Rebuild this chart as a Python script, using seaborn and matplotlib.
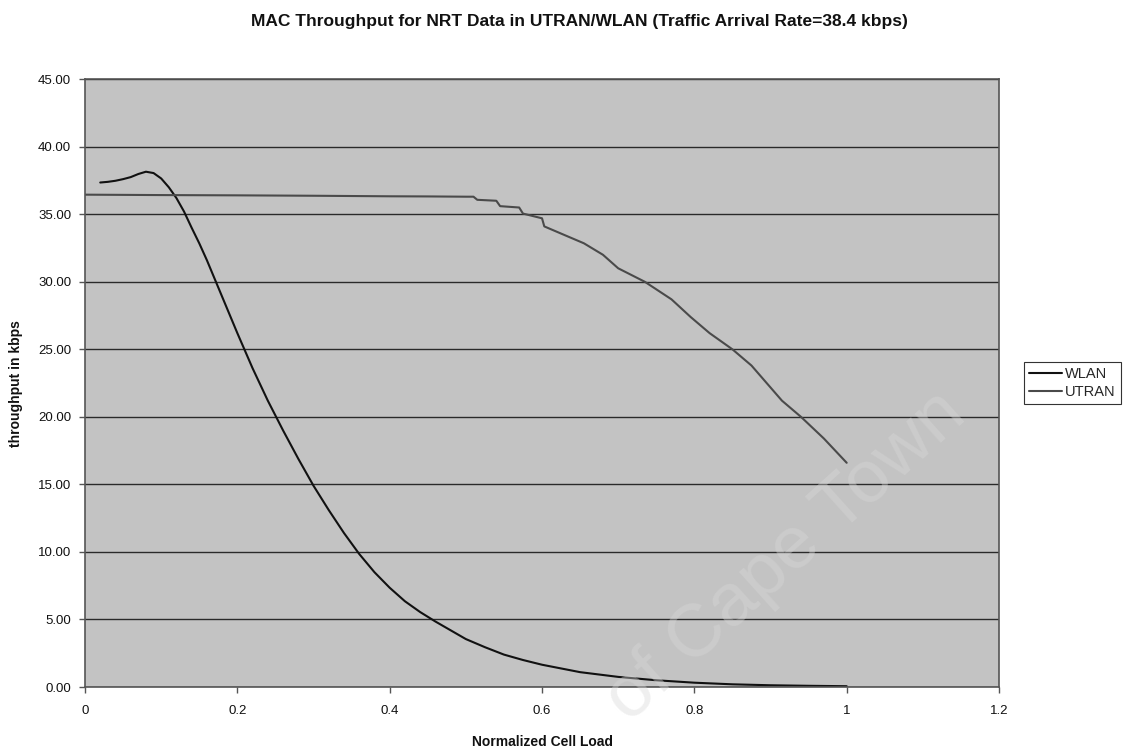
import numpy as np
import pandas as pd
import matplotlib
matplotlib.use("Agg")
import matplotlib.pyplot as plt
import seaborn as sns

# ---- data ----
wlan_x = [0.02, 0.03, 0.04, 0.05, 0.06, 0.07, 0.08, 0.09, 0.10, 0.11, 0.12, 0.13,
          0.14, 0.15, 0.16, 0.17, 0.18, 0.20, 0.22, 0.24,
          0.26, 0.28, 0.30, 0.32, 0.34, 0.36, 0.38, 0.40, 0.42, 0.44, 0.46, 0.48,
          0.50, 0.525, 0.55, 0.575, 0.60, 0.65, 0.70, 0.75, 0.80, 0.85, 0.90, 0.95, 1.00]
wlan_y = [37.35, 37.40, 37.48, 37.60, 37.75, 37.98, 38.15, 38.05, 37.65, 37.0, 36.2, 35.2,
          34.0, 32.85, 31.6, 30.25, 28.9, 26.2, 23.6, 21.2,
          19.0, 16.9, 14.9, 13.1, 11.4, 9.85, 8.5, 7.35, 6.35, 5.55, 4.85, 4.2,
          3.55, 2.95, 2.4, 2.0, 1.65, 1.1, 0.75, 0.5, 0.32, 0.2, 0.13, 0.09, 0.06]

utran_x = [0.00, 0.10, 0.20, 0.30, 0.40, 0.45, 0.50, 0.51, 0.515, 0.54, 0.545, 0.57,
           0.575, 0.60, 0.603, 0.63, 0.655, 0.68, 0.70, 0.735, 0.77, 0.795, 0.82,
           0.85, 0.875, 0.895, 0.915, 0.94, 0.97, 1.00]
utran_y = [36.45, 36.42, 36.40, 36.37, 36.33, 36.32, 36.30, 36.30, 36.07, 36.0, 35.6, 35.5,
           35.05, 34.7, 34.1, 33.45, 32.85, 32.0, 31.0, 30.0, 28.7, 27.4, 26.2,
           25.0, 23.8, 22.5, 21.2, 20.0, 18.4, 16.6]

series_names = ["WLAN", "UTRAN"]
x_ticks = [0, 0.2, 0.4, 0.6, 0.8, 1, 1.2]
x_tick_labels = ["0", "0.2", "0.4", "0.6", "0.8", "1", "1.2"]
y_ticks = [0, 5, 10, 15, 20, 25, 30, 35, 40, 45]

title = "MAC Throughput for NRT Data in UTRAN/WLAN (Traffic Arrival Rate=38.4 kbps)"
x_label = "Normalized Cell Load"
y_label = "throughput in kbps"

df = pd.concat([
    pd.DataFrame({"load": wlan_x, "tp": wlan_y, "series": series_names[0]}),
    pd.DataFrame({"load": utran_x, "tp": utran_y, "series": series_names[1]}),
], ignore_index=True)

sns.set_theme(style="white")
plt.rcParams["font.family"] = ["Liberation Sans", "DejaVu Sans"]

fig = plt.figure(figsize=(11.23, 7.47), dpi=100)
ax = fig.add_axes([0.0757, 0.0803, 0.8139, 0.8137])
ax.set_facecolor("#c3c3c3")

sns.lineplot(data=df, x="load", y="tp", hue="series",
             palette={"WLAN": "#111111", "UTRAN": "#4a4a4a"},
             estimator=None, sort=False, linewidth=1.5, ax=ax)
for ln in ax.get_lines():
    ln.set_solid_joinstyle("round")

ax.set_xlim(0, 1.2)
ax.set_ylim(0, 45)
ax.set_xticks(x_ticks)
ax.set_xticklabels(x_tick_labels)
ax.set_yticks(y_ticks)
ax.set_yticklabels([f"{v:.2f}" for v in y_ticks])
ax.yaxis.grid(True, color="#2a2a2a", linewidth=1.0)
ax.xaxis.grid(False)
ax.set_axisbelow(True)
for s in ax.spines.values():
    s.set_color("#555555")
    s.set_linewidth(1.2)
ax.tick_params(axis="both", which="major", direction="out", length=4, width=1,
               color="#555555", labelsize=9.5, pad=6, labelcolor="#111111",
               left=True, bottom=True)
ax.tick_params(axis="x", pad=9)

ax.set_xlabel(x_label, fontsize=10, fontweight="bold", color="#111111", labelpad=13)
ax.set_ylabel(y_label, fontsize=10, fontweight="bold", color="#111111", labelpad=11)

fig.text(0.516, 0.971, title, ha="center", va="center", fontsize=12.5,
         fontweight="bold", color="#111111")

handles, labels = ax.get_legend_handles_labels()
ax.legend(handles, labels, loc="center left", bbox_to_anchor=(1.027, 0.5),
          frameon=True, fancybox=False, edgecolor="#333333", framealpha=1,
          fontsize=10.5, handlelength=2.3, handletextpad=0.2, borderpad=0.35,
          labelspacing=0.3, borderaxespad=0)
ax.get_legend().get_frame().set_linewidth(0.8)

# faint scan watermark
fig.text(0.70, 0.255, "of Cape Town", fontsize=54, rotation=42, ha="center", va="center",
         color="#d8d8d8", alpha=0.4, zorder=0.5)

fig.savefig("out.png", dpi=100, facecolor="white")
